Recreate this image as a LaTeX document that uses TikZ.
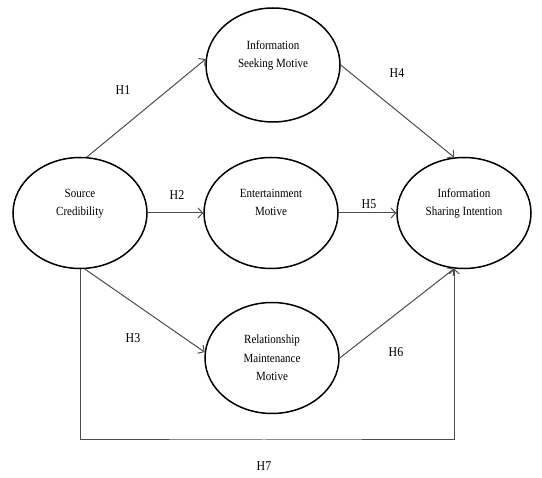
\documentclass[tikz,border=0pt]{standalone}
\usepackage{fontspec}
\setmainfont{Liberation Serif}[FakeStretch=0.88]
\usepackage{tikz}
\usetikzlibrary{arrows.meta,shapes.geometric}
\tikzset{>={Straight Barb[length=4.5pt,width=10pt]}}
\tikzset{construct/.style={draw,ellipse,line width=1.5pt,minimum width=134pt,minimum height=111pt,
    align=center,font=\fontsize{12.5}{18.5}\selectfont},
  link/.style={->,black!70,line width=1pt},
  hyp/.style={font=\fontsize{13.5}{15}\selectfont}}

\begin{document}
\begin{tikzpicture}[x=1pt,y=-1pt]
    \useasboundingbox (0,0) rectangle (542,478);
    \node[construct] (sc) at (80,213) {Source\\Credibility\\[3pt]~};
    \node[construct,minimum height=114pt] (ism) at (273,65) {Information\\Seeking Motive\\[3pt]~};
    \node[construct] (em) at (271,213) {Entertainment\\Motive\\[3pt]~};
    \node[construct] (isi) at (464,213) {Information\\Sharing Intention\\[3pt]~};
    \node[construct] (rmm) at (272,358) {Relationship\\Maintenance\\Motive};
    \coordinate (bottom) at (264,440);
    \draw[link] (sc.83) -- (ism.175);
    \draw[link] (sc.east) -- (em.west);
    \draw[link] (sc.275) -- (rmm.175);
    \draw[link] (ism.east) -- (isi.100);
    \draw[link] (em.east) -- (isi.west);
    \draw[link] (rmm.east) -- (isi.260);
    \draw[link] (sc.south) |- (bottom) -| (isi.260);
    \node[hyp] (h1) at (123,90) {H1};
    \node[hyp] (h2) at (177,195) {H2};
    \node[hyp] (h3) at (133,338) {H3};
    \node[hyp] (h4) at (397,73) {H4};
    \node[hyp] (h5) at (369,204) {H5};
    \node[hyp] (h6) at (396,352) {H6};
    \node[hyp] (h7) at (264,466) {H7};
\end{tikzpicture}
\end{document}
